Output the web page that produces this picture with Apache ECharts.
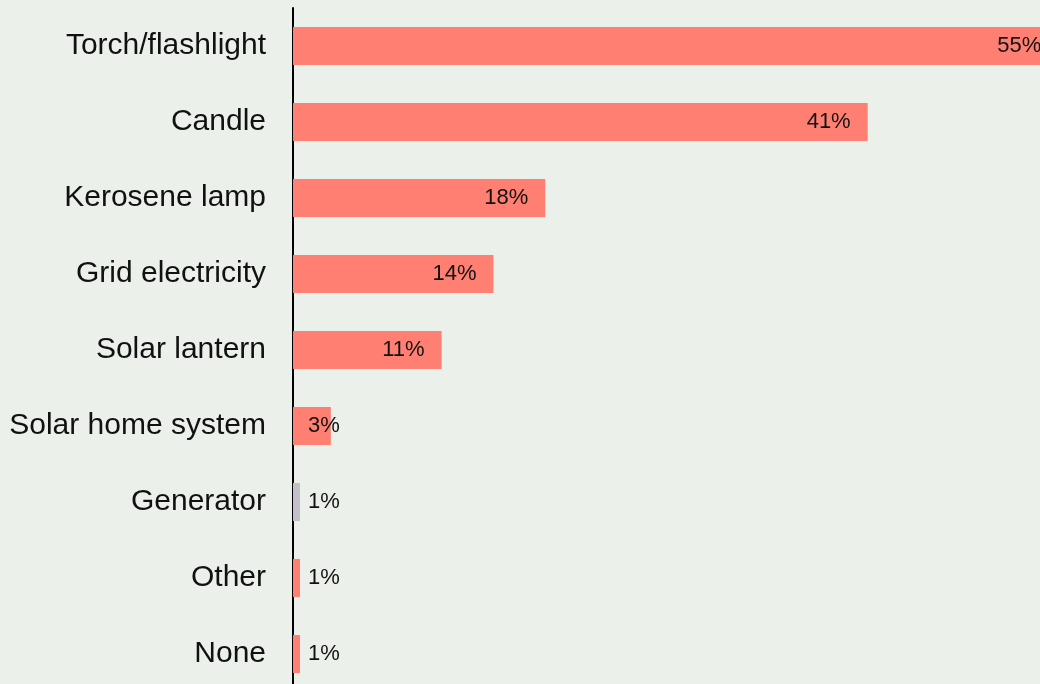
<!DOCTYPE html>
<html>
<head>
<meta charset="utf-8">
<style>
  html, body { margin: 0; padding: 0; background: #ebf0ea; }
  #chart { width: 1040px; height: 684px; }
</style>
<script src="https://cdn.jsdelivr.net/npm/echarts@6/dist/echarts.min.js"></script>
</head>
<body>
<div id="chart"></div>
<script>
// Main source of lighting (share of households, %)
const categories = [
  'Torch/flashlight', 'Candle', 'Kerosene lamp', 'Grid electricity',
  'Solar lantern', 'Solar home system', 'Generator', 'Other', 'None'
];
const shares = [54.6, 41, 18, 14.3, 10.6, 2.7, 0.5, 0.5, 0.5];
const highlightGrey = ['Generator'];

const SALMON = '#ff7f73';
const GREY = '#c3bfcc';

const chart = echarts.init(document.getElementById('chart'), null, { renderer: 'canvas' });

const barData = shares.map((v, i) => {
  const small = v < 5;
  return {
    value: v,
    itemStyle: { color: highlightGrey.includes(categories[i]) ? GREY : SALMON },
    label: small
      ? { position: 'insideLeft', distance: 15 }
      : { position: 'insideRight', distance: 17 }
  };
});

chart.setOption({
  backgroundColor: '#ebf0ea',
  animation: false,
  grid: {
    left: 293, top: 8, width: 841, height: 684,
    containLabel: false,
    outerBoundsMode: 'none'
  },
  xAxis: {
    type: 'value', min: 0, max: 60, show: false
  },
  yAxis: {
    type: 'category',
    data: categories,
    inverse: true,
    axisLine: { show: true, lineStyle: { color: '#000', width: 2 } },
    axisTick: { show: false },
    axisLabel: {
      color: '#111',
      fontSize: 30,
      fontFamily: 'Liberation Sans, Arial, sans-serif',
      margin: 27
    },
    splitLine: { show: false }
  },
  series: [{
    type: 'bar',
    data: barData,
    barWidth: '50%',
    clip: false,
    label: {
      show: true,
      color: '#111',
      fontSize: 22,
      fontFamily: 'Liberation Sans, Arial, sans-serif',
      formatter: p => Math.round(p.value) + '%'
    }
  }]
});
</script>
</body>
</html>
